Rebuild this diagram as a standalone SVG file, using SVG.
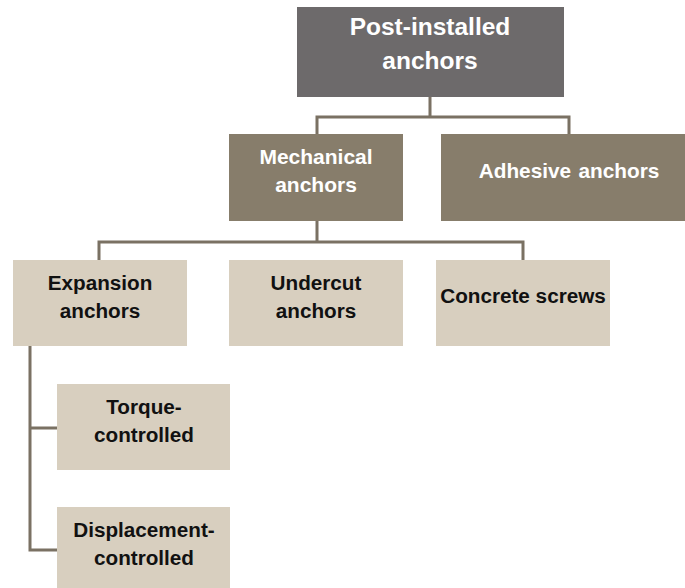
<svg xmlns="http://www.w3.org/2000/svg" width="685" height="588" viewBox="0 0 685 588">
<style>
.top{fill:#6d6a6b}
.mid{fill:#877d6b}
.low{fill:#d8cfbf}
.tw{font-family:"Liberation Sans",Arial,sans-serif;font-weight:bold;fill:#ffffff;text-anchor:middle}
.tb{font-family:"Liberation Sans",Arial,sans-serif;font-weight:bold;fill:#111111;text-anchor:middle;font-size:20.7px}
.c{fill:none;stroke:#7a7163;stroke-width:3}
</style>
<rect width="685" height="588" fill="#ffffff"/>
<g id="connectors">
<path class="c" d="M430,97 V117 M317,134 V117 H569 V134"/>
<path class="c" d="M317,221 V242 M99,260 V242 H523 V260"/>
<path class="c" d="M30,346 V550 H57 M30,428 H57"/>
</g>
<g id="n-post">
<rect class="top" x="297" y="7" width="267" height="90"/>
<text class="tw" x="430" y="35" font-size="24.5">Post-installed</text>
<text class="tw" x="430" y="69" font-size="24.5">anchors</text>
</g>
<g id="n-mech">
<rect class="mid" x="229" y="134" width="174" height="87"/>
<text class="tw" x="316" y="164" font-size="21">Mechanical</text>
<text class="tw" x="316" y="192" font-size="21">anchors</text>
</g>
<g id="n-adh">
<rect class="mid" x="441" y="134" width="256" height="87"/>
<text class="tw" x="569" y="178" font-size="20.8" word-spacing="1.5">Adhesive anchors</text>
</g>
<g id="n-exp">
<rect class="low" x="13" y="260" width="174" height="86"/>
<text class="tb" x="100" y="290">Expansion</text>
<text class="tb" x="100" y="318">anchors</text>
</g>
<g id="n-under">
<rect class="low" x="229" y="260" width="174" height="86"/>
<text class="tb" x="316" y="290">Undercut</text>
<text class="tb" x="316" y="318">anchors</text>
</g>
<g id="n-screws">
<rect class="low" x="436" y="260" width="174" height="86"/>
<text class="tb" x="523" y="303">Concrete screws</text>
</g>
<g id="n-torque">
<rect class="low" x="57" y="384" width="173" height="86"/>
<text class="tb" x="144" y="414">Torque-</text>
<text class="tb" x="144" y="442">controlled</text>
</g>
<g id="n-disp">
<rect class="low" x="57" y="507" width="173" height="86"/>
<text class="tb" x="144" y="537">Displacement-</text>
<text class="tb" x="144" y="565">controlled</text>
</g>
</svg>
